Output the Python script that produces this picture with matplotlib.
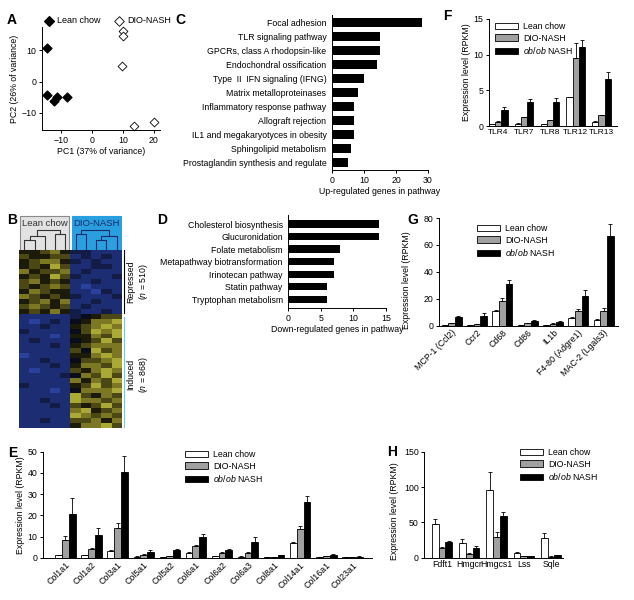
import numpy as np
import matplotlib
matplotlib.use('Agg')
import matplotlib.pyplot as plt
from matplotlib.colors import LinearSegmentedColormap
from matplotlib.patches import Rectangle

plt.rcParams['font.family'] = ['Liberation Sans', 'DejaVu Sans']
plt.rcParams['font.size'] = 6.3
plt.rcParams['mathtext.fontset'] = 'custom'
plt.rcParams['mathtext.it'] = 'Liberation Sans:italic'
plt.rcParams['mathtext.rm'] = 'Liberation Sans'
plt.rcParams['axes.linewidth'] = 0.7

W, H = 634, 600

# --- A: PCA
lean_pc1 = [-14.5, -14.3, -12.2, -11.1, -8.1]
lean_pc2 = [10.8, -4.3, -6.2, -5.0, -5.0]
dio_pc1 = [10.2, 10.0, 9.8, 13.5, 20.1]
dio_pc2 = [16.3, 14.6, 5.1, -14.2, -12.8]

# --- B: heatmap (0 = blue, 5 = black, 9 = yellow), 5 lean + 5 DIO columns
repressed_rows = [
    "5567533222", "6556623232", "5677532322", "5658622332", "7566723222",
    "5658632223", "6756522322", "6567621222", "5765522132", "7656532223",
    "5675722322", "6765623222", "5657532232",
]
induced_rows = [
    "2222234566", "2123245778", "2232256787", "3222246878", "2221255768",
    "2322245686", "2223256777", "2222264867", "1222255787", "2232246678",
    "2223257768", "2122265787", "2222347686", "2222275768", "3222256867",
    "2221247778", "2222286576", "2232287767", "2223265686", "2222278567",
    "2222287676", "2232266757", "2222257786",
]

# --- C / D: pathways
up_paths = ['Focal adhesion', 'TLR signaling pathway', 'GPCRs, class A rhodopsin-like',
            'Endochondral ossification', 'Type  II  IFN signaling (IFNG)',
            'Matrix metalloproteinases', 'Inflammatory response pathway',
            'Allograft rejection', 'IL1 and megakaryotyces in obesity',
            'Sphingolipid metabolism', 'Prostaglandin synthesis and regulate']
up_counts = [28, 15, 15, 14, 10, 8, 7, 7, 7, 6, 5]
down_paths = ['Cholesterol biosynthesis', 'Glucuronidation', 'Folate metabolism',
              'Metapathway biotransformation', 'Irinotecan pathway', 'Statin pathway',
              'Tryptophan metabolism']
down_counts = [14, 14, 8, 7, 7, 6, 6]

# --- F: TLRs
tlr_genes = ['TLR4', 'TLR7', 'TLR8', 'TLR12', 'TLR13']
tlr_lean = [0.25, 0.3, 0.3, 4.0, 0.6]
tlr_dio = [0.55, 1.2, 0.8, 9.6, 1.5]
tlr_ob = [2.3, 3.4, 3.4, 11.1, 6.6]
tlr_lean_err = [0.05, 0.1, 0.05, 0.1, 0.1]
tlr_dio_err = [0.1, 0.1, 0.1, 2.0, 0.1]
tlr_ob_err = [0.35, 0.4, 0.5, 0.9, 1.0]

# --- G: macrophage markers
mac_genes = ['MCP-1 (Ccl2)', 'Ccr2', 'Cd68', 'Cd86', 'IL1b', 'F4-80 (Adgre1)', 'MAC-2 (Lgals3)']
mac_lean = [0.5, 0.3, 11, 0.5, 0.5, 5.8, 4.3]
mac_dio = [1.5, 1.0, 18.4, 1.5, 1.0, 11, 10.8]
mac_ob = [6.1, 7.1, 30.6, 3.5, 2.6, 21.9, 66.5]
mac_lean_err = [0.2, 0.2, 0.8, 0.2, 0.2, 0.8, 0.6]
mac_dio_err = [0.4, 0.4, 1.8, 0.3, 0.5, 1.0, 2.0]
mac_ob_err = [1.0, 2.0, 3.2, 0.6, 1.0, 4.3, 9.0]

# --- E: collagens
col_genes = ['Col1a1', 'Col1a2', 'Col3a1', 'Col5a1', 'Col5a2', 'Col6a1', 'Col6a2',
             'Col6a3', 'Col8a1', 'Col14a1', 'Col16a1', 'Col23a1']
col_lean = [1.2, 1.2, 3.3, 0.5, 0.3, 2.3, 0.8, 0.5, 0.3, 7.0, 0.3, 0.2]
col_dio = [8.3, 4.3, 14.0, 1.3, 0.7, 5.3, 2.3, 2.2, 0.4, 13.4, 0.7, 0.4]
col_ob = [20.5, 10.5, 40.3, 2.7, 3.7, 9.7, 3.7, 7.5, 1.3, 26.2, 1.5, 0.5]
col_lean_err = [0.3, 0.2, 0.5, 0.2, 0.1, 0.5, 0.2, 0.2, 0.1, 0.5, 0.1, 0.1]
col_dio_err = [1.8, 0.5, 2.6, 0.4, 0.2, 0.5, 0.3, 0.3, 0.1, 1.5, 0.2, 0.1]
col_ob_err = [7.6, 3.6, 7.5, 0.8, 0.4, 1.3, 0.5, 2.4, 0.2, 2.8, 0.3, 0.2]

# --- H: cholesterol synthesis
chol_genes = ['Fdft1', 'Hmgcr', 'Hmgcs1', 'Lss', 'Sqle']
chol_lean = [48, 21, 96, 6.5, 28]
chol_dio = [14, 5, 29, 2.5, 1.5]
chol_ob = [22, 14, 59, 2.5, 3.5]
chol_lean_err = [7, 5, 25, 1, 7]
chol_dio_err = [1.5, 1, 8, 0.5, 0.5]
chol_ob_err = [1.5, 2.5, 5, 0.5, 1]

fig = plt.figure(figsize=(W / 100, H / 100), dpi=100)


def box(x0, y0, x1, y1):
    return fig.add_axes([x0 / W, 1 - y1 / H, (x1 - x0) / W, (y1 - y0) / H])


def style(ax):
    for s in ('top', 'right'):
        ax.spines[s].set_visible(False)
    ax.tick_params(width=0.7, length=2.5, pad=1.5, labelsize=6.3)


def grouped(ax, names, vals, errs, w, rot=False):
    x = np.arange(len(names))
    labels = ['Lean chow', 'DIO-NASH', r'$\it{ob/ob}$ NASH']
    colors = ['white', '#a0a0a0', 'black']
    for k in range(3):
        ax.bar(x + (k - 1) * w, vals[k], w, color=colors[k], edgecolor='black',
               linewidth=0.6, label=labels[k],
               yerr=[np.zeros(len(names)), errs[k]],
               error_kw=dict(ecolor='black', elinewidth=0.6, capsize=1.3, capthick=0.6))
    style(ax)
    ax.set_xticks(x)
    if rot:
        ax.set_xticklabels(names, rotation=45, ha='right', va='top', rotation_mode='anchor')
    else:
        ax.set_xticklabels(names)
    ax.tick_params(axis='x', length=0, pad=2)
    ax.set_ylabel('Expression level (RPKM)', labelpad=2)


def legend_at(ax, x, y):
    ax.legend(loc='upper left', bbox_to_anchor=(x / W, 1 - y / H), bbox_transform=fig.transFigure,
              frameon=False, handlelength=2.6, handleheight=0.75, labelspacing=0.3,
              handletextpad=0.6, borderaxespad=0, borderpad=0, fontsize=6.3)


# A
axA = box(42, 27, 160, 130)
axA.scatter(lean_pc1, lean_pc2, marker='D', s=20, c='black', label='Lean chow', clip_on=False)
axA.scatter(dio_pc1, dio_pc2, marker='D', s=20, facecolors='white', edgecolors='black',
            linewidths=0.6, label='DIO-NASH', clip_on=False)
style(axA)
axA.set_xlim(-16, 22)
axA.set_ylim(-15.5, 17.5)
axA.set_xticks([-10, 0, 10, 20])
axA.set_yticks([-10, 0, 10])
axA.set_xlabel('PC1 (37% of variance)', labelpad=2)
axA.set_ylabel('PC2 (26% of variance)', labelpad=2)
axA.legend(ncol=2, loc='lower left', bbox_to_anchor=(44 / W, 1 - 25 / H), bbox_transform=fig.transFigure,
           frameon=False, handletextpad=0.4, columnspacing=1.6, borderpad=0, borderaxespad=0,
           fontsize=6.5, handlelength=1.0, markerscale=1.1)

# B heatmap
mat = np.array([[int(c) for c in r] for r in repressed_rows + induced_rows])
cmap = LinearSegmentedColormap.from_list('by', [(0, '#3656c0'), (0.22, '#1c2d74'), (0.5, '#050505'),
                                               (0.75, '#6e6a1e'), (1, '#dcdc48')])
axHm = box(19.3, 250, 121.7, 428.3)
axHm.imshow(mat, cmap=cmap, vmin=0, vmax=9, aspect='auto', interpolation='nearest')
axHm.set_axis_off()

axHd = box(19.3, 215, 121.7, 250)
axHd.set_xlim(0, 10)
axHd.set_ylim(0, 1)
axHd.set_axis_off()
axHd.add_patch(Rectangle((0.03, 0), 4.87, 0.98, fc='#e2e2e2', ec='#8a8a8a', lw=0.8))
axHd.add_patch(Rectangle((5.1, 0), 4.87, 0.98, fc='#2a9fe0', ec='#2a9fe0', lw=0.8))
axHd.text(2.47, 0.76, 'Lean chow', ha='center', va='center', fontsize=6.8, color='#333333')
axHd.text(7.53, 0.76, 'DIO-NASH', ha='center', va='center', fontsize=6.8, color='#1a2a6a')


def link(ax, xa, ha, xb, hb, h, color):
    ax.plot([xa, xa, xb, xb], [ha, h, h, hb], color=color, lw=0.8)


# lean dendrogram
link(axHd, 0.5, 0, 1.5, 0, 0.3, '#333333')
link(axHd, 1.0, 0.3, 2.5, 0, 0.4, '#333333')
link(axHd, 3.5, 0, 4.5, 0, 0.45, '#333333')
link(axHd, 1.75, 0.4, 4.0, 0.45, 0.58, '#333333')
# DIO dendrogram
link(axHd, 5.5, 0, 6.5, 0, 0.45, '#1a2a6a')
link(axHd, 7.5, 0, 8.5, 0, 0.3, '#1a2a6a')
link(axHd, 8.0, 0.3, 9.5, 0, 0.4, '#1a2a6a')
link(axHd, 6.0, 0.45, 8.75, 0.4, 0.58, '#1a2a6a')

axBr = box(121.7, 250, 152, 428.3)
axBr.set_xlim(0, 1)
axBr.set_ylim(len(mat), 0)
axBr.set_axis_off()
axBr.plot([0.08, 0.08], [0, 12.7], color='black', lw=0.8)
axBr.plot([0.08, 0.08], [13.5, len(mat)], color='#6cc8ee', lw=0.8)
axBr.text(0.55, 6.4, 'Repressed\n($\\it{n}$ = 510)', rotation=90, ha='center', va='center',
          fontsize=6.3, multialignment='center')
axBr.text(0.55, 25.2, 'Induced\n($\\it{n}$ = 868)', rotation=90, ha='center', va='center',
          fontsize=6.3, multialignment='center')

# C
axC = box(332, 15, 428, 170)
yc = np.arange(len(up_paths))
axC.barh(yc, up_counts, height=0.6, color='black')
style(axC)
axC.set_ylim(len(up_paths) - 0.45, -0.55)
axC.set_xlim(0, 30)
axC.set_yticks(yc)
axC.set_yticklabels(up_paths)
axC.tick_params(axis='y', length=0, pad=4)
axC.set_xticks([0, 10, 20, 30])
axC.set_xlabel('Up-regulated genes in pathway', labelpad=2)

# D
axD = box(288.3, 215, 386, 308)
yd = np.arange(len(down_paths))
axD.barh(yd, down_counts, height=0.58, color='black')
style(axD)
axD.set_ylim(len(down_paths) - 0.3, -0.72)
axD.set_xlim(0, 15)
axD.set_yticks(yd)
axD.set_yticklabels(down_paths)
axD.tick_params(axis='y', length=0, pad=4)
axD.set_xticks([0, 5, 10, 15])
axD.set_xlabel('Down-regulated genes in pathway', labelpad=2)

# F
axF = box(489, 19, 617, 126)
grouped(axF, tlr_genes, [tlr_lean, tlr_dio, tlr_ob], [tlr_lean_err, tlr_dio_err, tlr_ob_err], 0.24)
axF.set_xlim(-0.36, 4.6)
axF.set_ylim(0, 15)
axF.set_yticks([0, 5, 10, 15])
axF.tick_params(axis='x', labelsize=6.0)
legend_at(axF, 495, 22)

# G
axG = box(439, 218, 618, 325.5)
grouped(axG, mac_genes, [mac_lean, mac_dio, mac_ob], [mac_lean_err, mac_dio_err, mac_ob_err], 0.265, rot=True)
axG.set_xlim(-0.5, 6.57)
axG.set_ylim(0, 80)
axG.set_yticks([0, 20, 40, 60, 80])
axG.yaxis.set_label_coords(-0.155, 0.42)
legend_at(axG, 477, 224)

# E
axE = box(43, 451.7, 372, 557.7)
grouped(axE, col_genes, [col_lean, col_dio, col_ob], [col_lean_err, col_dio_err, col_ob_err], 0.26, rot=True)
axE.set_xlim(-0.86, 11.75)
axE.set_ylim(0, 50)
axE.set_yticks([0, 10, 20, 30, 40, 50])
legend_at(axE, 185, 450)

# H
axH = box(424.3, 451.7, 563.3, 557.7)
grouped(axH, chol_genes, [chol_lean, chol_dio, chol_ob], [chol_lean_err, chol_dio_err, chol_ob_err], 0.25)
axH.set_xlim(-0.65, 4.45)
axH.set_ylim(0, 150)
axH.set_yticks([0, 50, 100, 150])
axH.yaxis.set_label_coords(-0.185, 0.44)
legend_at(axH, 520, 448)

for letter, x, y in [('A', 12, 20), ('C', 180, 20), ('F', 447, 16), ('B', 12, 220),
                     ('D', 162, 220), ('G', 413, 220), ('E', 13, 453), ('H', 392, 452)]:
    fig.text(x / W, 1 - y / H, letter, ha='center', va='center', fontsize=10, weight='bold')

fig.savefig('out.png', dpi=100)
